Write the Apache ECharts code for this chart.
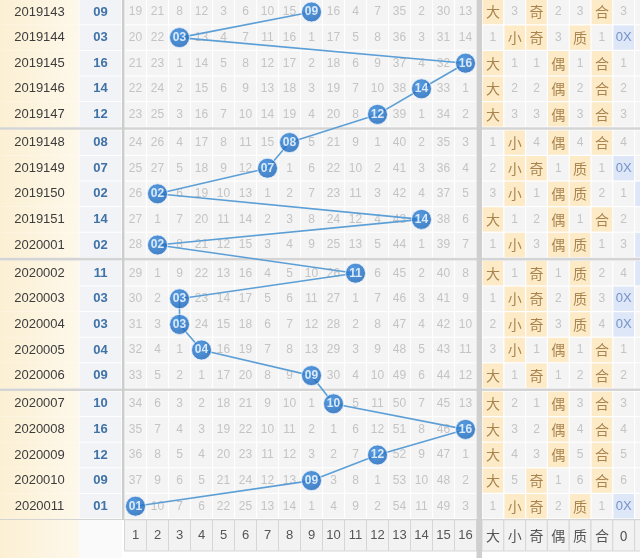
<!DOCTYPE html>
<html><head><meta charset="utf-8">
<script src="https://cdn.jsdelivr.net/npm/echarts@6/dist/echarts.min.js"></script>
<style>html,body{margin:0;padding:0;background:#fff}#c{width:640px;height:558px}</style>
</head><body><div id="c"></div>
<script>
// ---------- DATA ----------
const issues = ['2019143','2019144','2019145','2019146','2019147',
  '2019148','2019149','2019150','2019151','2020001',
  '2020002','2020003','2020004','2020005','2020006',
  '2020007','2020008','2020009','2020010','2020011'];
const winners = [9,3,16,14,12, 8,7,2,14,2, 11,3,3,4,9, 10,16,12,9,1];
// omission counts per number 1..16 (winner slot = 0)
const omissions = [
  [19,21,8,12,3,6,10,15,0,16,4,7,35,2,30,13],
  [20,22,0,13,4,7,11,16,1,17,5,8,36,3,31,14],
  [21,23,1,14,5,8,12,17,2,18,6,9,37,4,32,0],
  [22,24,2,15,6,9,13,18,3,19,7,10,38,0,33,1],
  [23,25,3,16,7,10,14,19,4,20,8,0,39,1,34,2],
  [24,26,4,17,8,11,15,0,5,21,9,1,40,2,35,3],
  [25,27,5,18,9,12,0,1,6,22,10,2,41,3,36,4],
  [26,0,6,19,10,13,1,2,7,23,11,3,42,4,37,5],
  [27,1,7,20,11,14,2,3,8,24,12,4,43,0,38,6],
  [28,0,8,21,12,15,3,4,9,25,13,5,44,1,39,7],
  [29,1,9,22,13,16,4,5,10,26,0,6,45,2,40,8],
  [30,2,0,23,14,17,5,6,11,27,1,7,46,3,41,9],
  [31,3,0,24,15,18,6,7,12,28,2,8,47,4,42,10],
  [32,4,1,0,16,19,7,8,13,29,3,9,48,5,43,11],
  [33,5,2,1,17,20,8,9,0,30,4,10,49,6,44,12],
  [34,6,3,2,18,21,9,10,1,0,5,11,50,7,45,13],
  [35,7,4,3,19,22,10,11,2,1,6,12,51,8,46,0],
  [36,8,5,4,20,23,11,12,3,2,7,0,52,9,47,1],
  [37,9,6,5,21,24,12,13,0,3,8,1,53,10,48,2],
  [0,10,7,6,22,25,13,14,1,4,9,2,54,11,49,3]
];
const numHeaders = ['1','2','3','4','5','6','7','8','9','10','11','12','13','14','15','16'];
const attrHeaders = ['大','小','奇','偶','质','合','0','1'];
const attrValues = [
  ['大','3','奇','2','3','合','3',''],
  ['1','小','奇','3','质','1','0X',''],
  ['大','1','1','偶','1','合','1',''],
  ['大','2','2','偶','2','合','2',''],
  ['大','3','3','偶','3','合','3',''],
  ['1','小','4','偶','4','合','4',''],
  ['2','小','奇','1','质','1','0X',''],
  ['3','小','1','偶','质','2','1','1X'],
  ['大','1','2','偶','1','合','2',''],
  ['1','小','3','偶','质','1','3','1X'],
  ['大','1','奇','1','质','2','4','1X'],
  ['1','小','奇','2','质','3','0X',''],
  ['2','小','奇','3','质','4','0X',''],
  ['3','小','1','偶','1','合','1',''],
  ['大','1','奇','1','2','合','2',''],
  ['大','2','1','偶','3','合','3',''],
  ['大','3','2','偶','4','合','4',''],
  ['大','4','3','偶','5','合','5',''],
  ['大','5','奇','1','6','合','6',''],
  ['1','小','奇','2','质','1','0X','']
];

// ---------- LAYOUT ----------
const FONT = '"Liberation Sans", Arial, Helvetica, sans-serif';
const CJK = '"Noto Sans CJK SC", sans-serif';
const ROW_H = 25.6, ROW_TOP0 = -0.8, GROUP_GAP = 2.6;
function rowTop(i){ return ROW_TOP0 + i*ROW_H + Math.floor(i/5)*GROUP_GAP; }
function rowMid(i){ return rowTop(i) + ROW_H/2; }
const ISSUE_L = 0, ISSUE_R = 79, NUMC_R = 122;
const NUM_L = 124.5, NUM_W = 22;
function numLeft(j){ return NUM_L + j*NUM_W; }
function numMid(j){ return numLeft(j) + NUM_W/2; }
const ATTR_L = 482, ATTR_W = 21.8;
function attrLeft(k){ return ATTR_L + k*ATTR_W; }
const LAST_BOTTOM = rowTop(19) + ROW_H;
const HDR_T = LAST_BOTTOM + 0.8, HDR_B = 551;

// ---------- BUILD CELLS ----------
const cells = [];
issues.forEach((s,i)=>{
  cells.push({k:'issue', x0:ISSUE_L, x1:ISSUE_R, y0:rowTop(i), y1:rowTop(i)+ROW_H, t:s});
  cells.push({k:'num', x0:ISSUE_R, x1:NUMC_R, y0:rowTop(i), y1:rowTop(i)+ROW_H, t:String(winners[i]).padStart(2,'0')});
  omissions[i].forEach((v,j)=>{
    cells.push({k:'om', x0:numLeft(j), x1:numLeft(j)+NUM_W, y0:rowTop(i), y1:rowTop(i)+ROW_H, t: v===0?'':String(v)});
  });
  attrValues[i].forEach((v,k)=>{
    let kind = 'attrPlain';
    if (/X$/.test(v)) kind = 'attrBlue';
    else if (v !== '' && isNaN(Number(v))) kind = 'attrHi';
    cells.push({k:kind, x0:attrLeft(k), x1:attrLeft(k)+ATTR_W, y0:rowTop(i), y1:rowTop(i)+ROW_H, t: kind==='attrBlue' && k===7 ? '' : v});
  });
});
// header row
cells.push({k:'issueFoot', x0:ISSUE_L, x1:ISSUE_R, y0:HDR_T-1, y1:558, t:''});
cells.push({k:'numFoot', x0:ISSUE_R, x1:NUMC_R, y0:HDR_T-1, y1:558, t:''});
numHeaders.forEach((h,j)=>cells.push({k:'hdr', x0:numLeft(j), x1:numLeft(j)+NUM_W, y0:HDR_T, y1:HDR_B, t:h}));
attrHeaders.forEach((h,k)=>cells.push({k:'hdrA', x0:attrLeft(k), x1:attrLeft(k)+ATTR_W, y0:HDR_T, y1:HDR_B, t:h}));

const styles = {
  issue:{bg:new echarts.graphic.LinearGradient(0,0,1,0,[{offset:0,color:'#fcf0d4'},{offset:1,color:'#fdf8ea'}]), gap:0, color:'#3c3c3c', size:13, weight:'normal', font:FONT},
  issueFoot:{bg:new echarts.graphic.LinearGradient(0,0,1,0,[{offset:0,color:'#fcf0d4'},{offset:1,color:'#fdf8ea'}]), gap:0},
  num:{bg:'#f1f3f6', gap:0.5, color:'#3f72a6', size:13, weight:'bold', font:FONT},
  numFoot:{bg:'#fafafa', gap:0},
  om:{bg:'#f4f4f4', gap:0.6, color:'#c4c4c4', size:12, weight:'normal', font:FONT},
  attrPlain:{bg:'#f4f4f4', gap:0.6, color:'#c4c4c4', size:12, weight:'normal', font:FONT},
  attrHi:{bg:'#fdebc8', gap:0.6, color:'#a9844f', size:14, weight:'normal', font:CJK},
  attrBlue:{bg:'#dde7f8', gap:0.6, color:'#7592c6', size:13, weight:'normal', font:FONT},
  hdr:{bg:'#f2f2f2', gap:0, stroke:'#d6d6d6', color:'#555', size:13, weight:'normal', font:FONT},
  hdrA:{bg:'#f2f2f2', gap:0, stroke:'#d6d6d6', color:'#555', size:14, weight:'normal', font:CJK}
};

function renderCell(params, api){
  const c = cells[params.dataIndex];
  const st = styles[c.k];
  const p0 = api.coord([c.x0, c.y0]);
  const p1 = api.coord([c.x1, c.y1]);
  const g = st.gap || 0;
  const children = [{
    type:'rect',
    shape:{x:p0[0]+g, y:p0[1]+g, width:p1[0]-p0[0]-2*g, height:p1[1]-p0[1]-2*g},
    style:{fill:st.bg, stroke:st.stroke||null, lineWidth:st.stroke?1:0}
  }];
  if (c.t) children.push({
    type:'text',
    style:{text:c.t, x:(p0[0]+p1[0])/2, y:(p0[1]+p1[1])/2, align:'center', verticalAlign:'middle',
      fill:st.color, fontSize:st.size, fontWeight:st.weight, fontFamily:st.font}
  });
  return {type:'group', children};
}

// separators (group gaps, vertical dividers)
const hSeps = [5,10,15,20].map(i=>i);
const frame = [];
hSeps.forEach(i=>{ frame.push({x0:0,x1:640,y0:rowTop(i-1)+ROW_H, y1:(i<20?rowTop(i):HDR_T), c:'#d4d4d4'}); });
frame.push({x0:NUMC_R, x1:NUM_L, y0:-2, y1:HDR_T, c:'#cdcdcd'});
frame.push({x0:numLeft(16), x1:ATTR_L, y0:-2, y1:558, c:'#cfcfcf'});
function renderFrame(params, api){
  const f = frame[params.dataIndex];
  const p0 = api.coord([f.x0,f.y0]), p1 = api.coord([f.x1,f.y1]);
  return {type:'rect', shape:{x:p0[0], y:p0[1], width:p1[0]-p0[0], height:Math.max(1,p1[1]-p0[1])}, style:{fill:f.c}};
}

const ballData = winners.map((v,i)=>[numMid(v-1), rowMid(i), v]);

const chart = echarts.init(document.getElementById('c'), null, {renderer:'canvas'});
chart.setOption({
  animation:false,
  backgroundColor:'#ffffff',
  grid:{left:0,right:0,top:0,bottom:0},
  xAxis:{type:'value', min:0, max:640, show:false},
  yAxis:{type:'value', min:0, max:558, inverse:true, show:false},
  series:[
    {type:'custom', renderItem:renderCell, data:cells.map(c=>[(c.x0+c.x1)/2,(c.y0+c.y1)/2]), z:1, silent:true, clip:false},
    {type:'custom', renderItem:renderFrame, data:frame.map(f=>[(f.x0+f.x1)/2,(f.y0+f.y1)/2]), z:2, silent:true, clip:false},
    {type:'line', data:ballData, symbol:'none', z:3, lineStyle:{color:'#5c9fd6', width:1.6}, silent:true},
    {type:'scatter', data:ballData, z:4, symbolSize:20,
      itemStyle:{color:new echarts.graphic.RadialGradient(0.4,0.35,0.7,[{offset:0,color:'#2f86dc'},{offset:1,color:'#1660b6'}]), borderColor:'#e6f0fb', borderWidth:1},
      label:{show:true, position:'inside', formatter:p=>String(p.value[2]).padStart(2,'0'), color:'#fff', fontSize:12, fontWeight:'bold', fontFamily:FONT}}
  ]
});
</script></body></html>
